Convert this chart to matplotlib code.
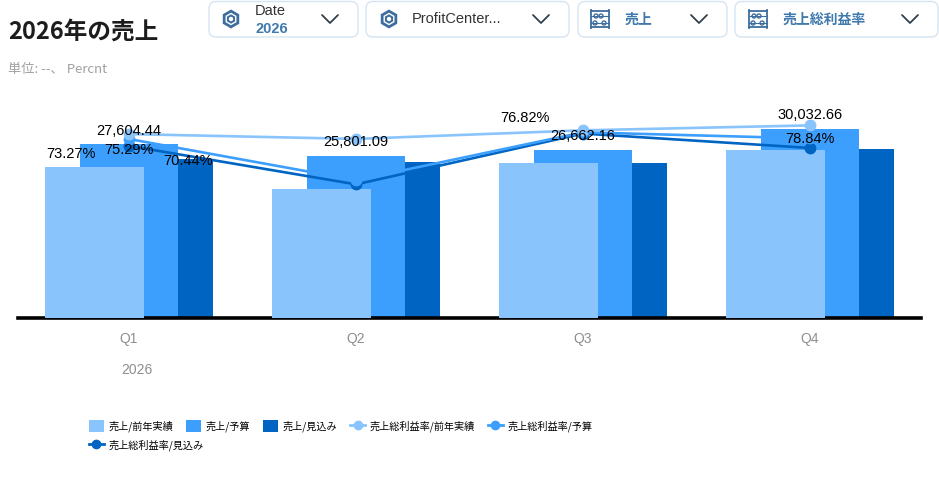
import matplotlib
matplotlib.use("Agg")
import matplotlib.pyplot as plt
import numpy as np
from matplotlib.patches import FancyBboxPatch, RegularPolygon, Circle, Patch
from matplotlib.lines import Line2D

# data
quarters = ["Q1", "Q2", "Q3", "Q4"]
year = "2026"
sales_prev = [23980, 20490, 24610, 26680]          # 売上/前年実績
sales_budget = [27604.44, 25801.09, 26662.16, 30032.66]  # 売上/予算
sales_fcst = [25250, 24770, 24610, 26840]          # 売上/見込み
margin_prev = [75.29, 73.3, 76.82, 78.84]          # 売上総利益率/前年実績
margin_budget = [73.27, 56.4, 76.0, 73.5]          # 売上総利益率/予算
margin_fcst = [70.44, 54.7, 75.5, 69.6]            # 売上総利益率/見込み

c_light = "#89c4fc"
c_mid = "#3d9ffd"
c_dark = "#0064c3"
jp = ["Noto Sans CJK JP", "DejaVu Sans"]
num = ["Liberation Sans", "DejaVu Sans"]

fig = plt.figure(figsize=(9.39, 4.84), dpi=100)

# background axes in pixel coords for the header widgets
bg = fig.add_axes([0, 0, 1, 1])
bg.set_xlim(0, 939)
bg.set_ylim(484, 0)
bg.axis("off")

bg.text(8, 32, "2026年の売上", family=jp, fontweight="bold", fontsize=17,
        color="#1d1d1d", va="center", ha="left")
bg.text(8, 69, "単位: --、 Percnt", family=jp, fontsize=9.5,
        color="#a0a0a0", va="center", ha="left")

boxes = [(209, 358), (366, 569), (578, 727), (735, 938)]
for x0, x1 in boxes:
    bg.add_patch(FancyBboxPatch((x0, 1.5), x1 - x0, 35.5,
                                boxstyle="round,pad=0,rounding_size=7",
                                fc="white", ec="#d6e4f2", lw=1.0))

icon_col = "#3d6e9e"


def cube(cx, cy):
    bg.add_patch(RegularPolygon((cx, cy), 6, radius=9.5, orientation=0,
                                fc=icon_col, ec="none"))
    bg.add_patch(RegularPolygon((cx, cy), 6, radius=5.5, orientation=0,
                                fc="none", ec="white", lw=1.0))
    bg.add_patch(Circle((cx, cy), 2.2, fc="white", ec="none"))


def abacus(cx, cy):
    bg.plot([cx - 9, cx - 9], [cy - 9, cy + 9], color=icon_col, lw=1.3)
    bg.plot([cx + 9, cx + 9], [cy - 9, cy + 9], color=icon_col, lw=1.3)
    for yy in (cy - 8, cy + 8):
        bg.plot([cx - 9, cx + 9], [yy, yy], color=icon_col, lw=1.3)
    for yy, xs in ((cy - 3, (cx - 4, cx + 1)), (cy + 4, (cx - 5, cx + 4))):
        bg.plot([cx - 9, cx + 9], [yy, yy], color=icon_col, lw=0.8)
        for xx in xs:
            bg.add_patch(Circle((xx, yy), 2.0, fc="white", ec=icon_col, lw=1.0))


def chevron(cx, cy):
    bg.plot([cx - 8, cx, cx + 8], [cy - 4, cy + 4, cy - 4], color="#32404d",
            lw=1.3, solid_capstyle="round", solid_joinstyle="round")


cube(231, 19)
cube(389, 19)
abacus(600, 19)
abacus(758, 19)
for cx in (330, 541, 699, 910):
    chevron(cx, 19)

bg.text(255, 11, "Date", family=num, fontsize=10.5, color="#333333", va="center")
bg.text(255, 29, "2026", family=num, fontsize=10.5, fontweight="bold",
        color="#3f79ad", va="center")
bg.text(412, 19, "ProfitCenter...", family=num, fontsize=10.5,
        color="#333333", va="center")
bg.text(625, 20, "売上", family=jp, fontsize=10, fontweight="bold",
        color="#3f79ad", va="center")
bg.text(783, 20, "売上総利益率", family=jp, fontsize=10, fontweight="bold",
        color="#3f79ad", va="center")

# chart
ax = fig.add_axes([18 / 939, (484 - 318) / 484, 903 / 939, 218 / 484])
x = np.arange(len(quarters))
w = 0.436
off = 0.154
ax.bar(x + off, sales_fcst, w, color=c_dark, zorder=1)
ax.bar(x, sales_budget, w, color=c_mid, zorder=2)
ax.bar(x - off, sales_prev, w, color=c_light, zorder=3)
ax.set_xlim(-0.489, 3.489)
ax.set_ylim(0, 218 * 158.8)
for s in ("top", "left", "right"):
    ax.spines[s].set_visible(False)
ax.spines["bottom"].set_linewidth(2.6)
ax.spines["bottom"].set_color("black")
ax.set_yticks([])
ax.set_xticks(x)
ax.set_xticklabels(quarters, family=num, fontsize=10, color="#8e8e8e")
ax.tick_params(axis="x", length=0, pad=10)
ax.patch.set_alpha(0)

ax2 = ax.twinx()
ax2.set_ylim(0, 218 / 2.443)
ax2.axis("off")
for vals, col in ((margin_fcst, c_dark), (margin_budget, c_mid), (margin_prev, c_light)):
    ax2.plot(x, vals, color=col, lw=1.9, marker="o", ms=7.5, zorder=3)

# data labels on top
for i, v in enumerate(sales_budget):
    ax2.annotate(f"{v:,.2f}", xy=(x[i], v), xycoords=ax.transData,
                 xytext=(0, 9.8), textcoords="offset points", ha="center",
                 va="center", family=num, fontsize=10.5, color="black", zorder=5)

pct_labels = [
    (margin_budget, 0, -41.8, -10.8),
    (margin_prev, 0, 0, -11.5),
    (margin_fcst, 0, 42.5, -10.8),
    (margin_prev, 2, -41.8, 8.9),
    (margin_prev, 3, 0, -10.0),
]
for vals, i, dx, dy in pct_labels:
    ax2.annotate(f"{vals[i]:.2f}%", xy=(x[i], vals[i]), xytext=(dx, dy),
                 textcoords="offset points", ha="center", va="center",
                 family=num, fontsize=10.5, color="black", zorder=5)

bg.text(137, 370, year, family=num, fontsize=10, color="#8e8e8e",
        ha="center", va="center")

# legend
handles = [
    Patch(fc=c_light, ec="none", label="売上/前年実績"),
    Patch(fc=c_mid, ec="none", label="売上/予算"),
    Patch(fc=c_dark, ec="none", label="売上/見込み"),
    Line2D([], [], color=c_light, lw=2, marker="o", ms=6, label="売上総利益率/前年実績"),
    Line2D([], [], color=c_mid, lw=2, marker="o", ms=6, label="売上総利益率/予算"),
    Line2D([], [], color=c_dark, lw=2, marker="o", ms=6, label="売上総利益率/見込み"),
]
leg_kw = dict(frameon=False, prop={"family": jp, "size": 7.3},
              handlelength=1.45, handleheight=1.45, handletextpad=0.45,
              columnspacing=1.3, borderpad=0, borderaxespad=0, loc="upper left")
leg1 = fig.legend(handles=handles[:5], ncol=5,
                  bbox_to_anchor=(89 / 939, 1 - 420 / 484), **leg_kw)
leg2 = fig.legend(handles=handles[5:], ncol=1,
                  bbox_to_anchor=(89 / 939, 1 - 439 / 484), **leg_kw)

fig.savefig("out.png", dpi=100)
